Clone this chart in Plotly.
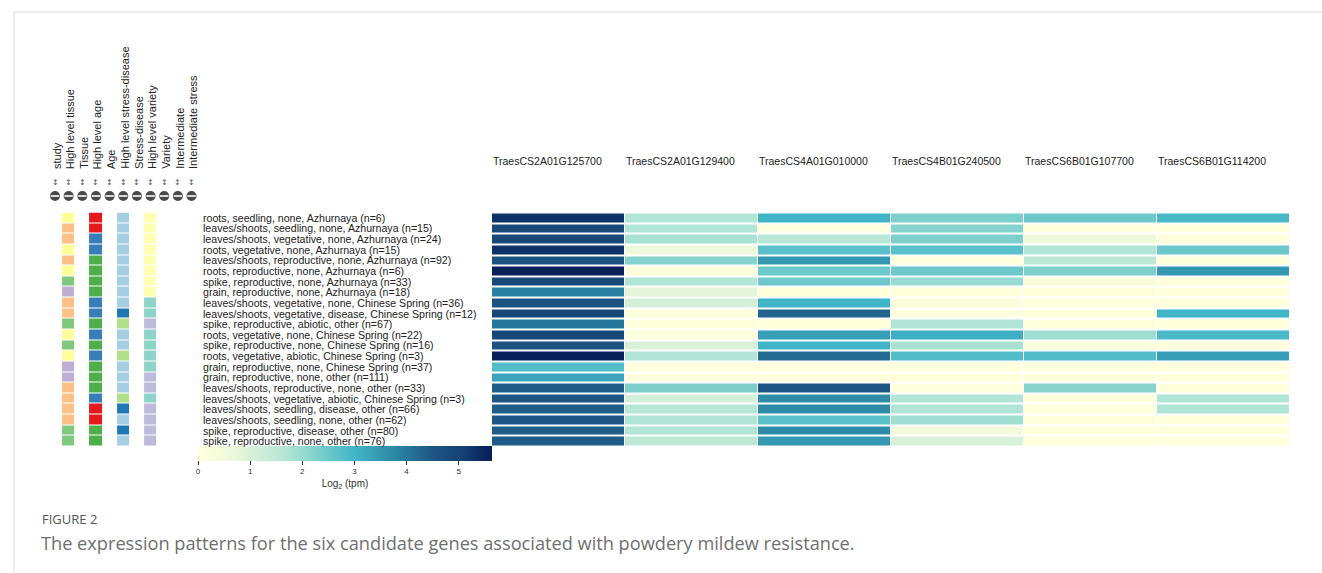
import plotly.graph_objects as go

W, H = 1322, 573

genes = ["TraesCS2A01G125700", "TraesCS2A01G129400", "TraesCS4A01G010000",
         "TraesCS4B01G240500", "TraesCS6B01G107700", "TraesCS6B01G114200"]

samples = [
    "roots, seedling, none, Azhurnaya (n=6)",
    "leaves/shoots, seedling, none, Azhurnaya (n=15)",
    "leaves/shoots, vegetative, none, Azhurnaya (n=24)",
    "roots, vegetative, none, Azhurnaya (n=15)",
    "leaves/shoots, reproductive, none, Azhurnaya (n=92)",
    "roots, reproductive, none, Azhurnaya (n=6)",
    "spike, reproductive, none, Azhurnaya (n=33)",
    "grain, reproductive, none, Azhurnaya (n=18)",
    "leaves/shoots, vegetative, none, Chinese Spring (n=36)",
    "leaves/shoots, vegetative, disease, Chinese Spring (n=12)",
    "spike, reproductive, abiotic, other (n=67)",
    "roots, vegetative, none, Chinese Spring (n=22)",
    "spike, reproductive, none, Chinese Spring (n=16)",
    "roots, vegetative, abiotic, Chinese Spring (n=3)",
    "grain, reproductive, none, Chinese Spring (n=37)",
    "grain, reproductive, none, other (n=111)",
    "leaves/shoots, reproductive, none, other (n=33)",
    "leaves/shoots, vegetative, abiotic, Chinese Spring (n=3)",
    "leaves/shoots, seedling, disease, other (n=66)",
    "leaves/shoots, seedling, none, other (n=62)",
    "spike, reproductive, disease, other (n=80)",
    "spike, reproductive, none, other (n=76)",
]

# log2(tpm) for each gene, one value per sample group
expr_2A_125700 = [5.3, 4.9, 4.9, 5.3, 4.6, 5.6, 4.9, 3.9, 4.6, 4.9, 4.0,
                  4.9, 4.6, 5.6, 2.8, 3.3, 4.4, 4.5, 4.4, 4.5, 4.4, 4.4]
expr_2A_129400 = [1.7, 1.7, 1.8, 0.6, 2.2, 0.0, 1.7, 0.8, 1.1, 0.1, 0.0,
                  0.1, 1.0, 1.7, 0.0, 0.0, 2.3, 1.1, 1.6, 1.7, 1.7, 1.5]
expr_4A_010000 = [3.0, 0.05, 1.6, 2.7, 3.5, 2.5, 2.5, 0.0, 3.0, 4.3, 0.0,
                  3.4, 3.0, 4.2, 0.0, 0.0, 4.5, 3.7, 3.7, 2.7, 3.7, 3.5]
expr_4B_240500 = [2.3, 2.2, 2.3, 2.7, 0.05, 2.5, 2.0, 0.0, 0.2, 0.05, 1.7,
                  3.1, 1.8, 2.8, 0.0, 0.0, 0.05, 1.7, 1.7, 1.9, 0.5, 1.0]
expr_6B_107700 = [2.5, 0.0, 0.6, 1.7, 1.5, 2.3, 0.3, 0.0, 0.0, 0.0, 0.0,
                  1.9, 0.0, 2.8, 0.0, 0.0, 2.2, 0.0, 0.0, 0.0, 0.0, 0.0]
expr_6B_114200 = [2.9, 0.0, 0.0, 2.5, 0.0, 3.5, 0.0, 0.0, 0.0, 3.0, 0.0,
                  2.9, 0.0, 3.4, 0.0, 0.0, 0.0, 1.7, 1.7, 0.0, 0.0, 0.0]
expr_max = 5.64
colorbar_ticks = [0, 1, 2, 3, 4, 5]

# sample metadata shown as coloured side columns
high_level_tissue = ["roots", "leaves/shoots", "leaves/shoots", "roots", "leaves/shoots",
                     "roots", "spike", "grain", "leaves/shoots", "leaves/shoots", "spike",
                     "roots", "spike", "roots", "grain", "grain", "leaves/shoots",
                     "leaves/shoots", "leaves/shoots", "leaves/shoots", "spike", "spike"]
high_level_age = ["seedling", "seedling", "vegetative", "vegetative", "reproductive",
                  "reproductive", "reproductive", "reproductive", "vegetative", "vegetative",
                  "reproductive", "vegetative", "reproductive", "vegetative", "reproductive",
                  "reproductive", "reproductive", "vegetative", "seedling", "seedling",
                  "reproductive", "reproductive"]
high_level_stress = ["none", "none", "none", "none", "none", "none", "none", "none", "none",
                     "disease", "abiotic", "none", "none", "abiotic", "none", "none", "none",
                     "abiotic", "disease", "none", "disease", "none"]
high_level_variety = ["Azhurnaya"] * 8 + ["Chinese Spring", "Chinese Spring", "other",
                      "Chinese Spring", "Chinese Spring", "Chinese Spring", "Chinese Spring",
                      "other", "other", "Chinese Spring", "other", "other", "other", "other"]

factor_headers = ["study", "High level tissue", "Tissue", "High level age", "Age",
                  "High level stress-disease", "Stress-disease", "High level variety",
                  "Variety", "Intermediate", "Intermediate stress"]

tissue_colors = {"roots": "#ffff99", "leaves/shoots": "#fdc086",
                 "spike": "#7fc97f", "grain": "#beaed4"}
age_colors = {"seedling": "#e41a1c", "vegetative": "#377eb8", "reproductive": "#4daf4a"}
stress_colors = {"none": "#a6cee3", "disease": "#1f78b4", "abiotic": "#b2df8a"}
variety_colors = {"Azhurnaya": "#ffffb3", "Chinese Spring": "#8dd3c7", "other": "#bebada"}

expr_colorscale = [
    [0.00, "#ffffdc"], [0.09, "#f3fadb"], [0.18, "#d9f1d9"], [0.30, "#b2e5d5"],
    [0.41, "#7ccfcc"], [0.53, "#41b6c8"], [0.62, "#3498b2"], [0.71, "#26789a"],
    [0.80, "#1d5583"], [0.89, "#154475"], [1.00, "#081d58"],
]

FONT = "Liberation Sans, Arial, sans-serif"


def px_x(p):
    return p / W


def px_y(p):
    return 1 - p / H


n_rows = len(samples)
rows = list(range(n_rows))
gene_values = [expr_2A_125700, expr_2A_129400, expr_4A_010000,
               expr_4B_240500, expr_6B_107700, expr_6B_114200]
z = [[g[i] for g in gene_values] for i in rows]

fig = go.Figure()

fig.add_trace(go.Heatmap(
    z=z, x=list(range(len(genes))), y=rows,
    zmin=0, zmax=expr_max, colorscale=expr_colorscale,
    xgap=1, ygap=2, hoverongaps=False,
    customdata=[[s] * len(genes) for s in samples],
    hovertemplate="%{customdata}<br>%{z:.2f}<extra></extra>",
    colorbar=dict(
        orientation="h", x=px_x(345), xanchor="center", y=px_y(446), yanchor="top",
        len=294 / W, lenmode="fraction", thickness=15, thicknessmode="pixels",
        xpad=0, ypad=0, outlinewidth=0,
        tickvals=colorbar_ticks, ticks="outside", ticklen=4, tickcolor="#333",
        tickfont=dict(family=FONT, size=8, color="#333"),
        title=dict(text="Log<sub>2</sub> (tpm)", side="bottom",
                   font=dict(family=FONT, size=10, color="#333")),
    ),
))

# side columns: one heatmap, each column uses its own palette
factor_slots = [1, 3, 5, 7]
factor_columns = [(high_level_tissue, tissue_colors), (high_level_age, age_colors),
                  (high_level_stress, stress_colors), (high_level_variety, variety_colors)]
palette = []
offsets = []
for _, cmap in factor_columns:
    offsets.append(len(palette))
    palette.extend(cmap.values())
n_cat = len(palette)
cat_scale = []
for i, c in enumerate(palette):
    cat_scale += [[i / n_cat, c], [(i + 1) / n_cat, c]]
cat_z = []
for i in rows:
    cat_z.append([offsets[k] + list(cmap.keys()).index(vals[i]) + 0.5
                  for k, (vals, cmap) in enumerate(factor_columns)])
cat_text = [[vals[i] for vals, _ in factor_columns] for i in rows]
fig.add_trace(go.Heatmap(
    z=cat_z, x=factor_slots, y=rows, xaxis="x2", yaxis="y",
    zmin=0, zmax=n_cat, colorscale=cat_scale, showscale=False,
    xgap=15, ygap=1, text=cat_text, hovertemplate="%{text}<extra></extra>",
))

# sort / collapse controls under each factor header
slots = list(range(len(factor_headers)))
fig.add_trace(go.Scatter(
    x=slots, y=[196] * len(slots), xaxis="x2", yaxis="y3", mode="markers",
    marker=dict(symbol="circle", size=10, color="#4a4a4a"),
    hoverinfo="skip", cliponaxis=False,
))
fig.add_trace(go.Scatter(
    x=slots, y=[196] * len(slots), xaxis="x2", yaxis="y3", mode="markers",
    marker=dict(symbol="line-ew", size=6, line=dict(color="white", width=1.6)),
    hoverinfo="skip", cliponaxis=False,
))

annotations = []
for k, h in enumerate(factor_headers):
    annotations.append(dict(
        text=h, x=k, xref="x2", xshift=1.5, y=px_y(171), yref="paper",
        xanchor="center", yanchor="bottom", textangle=-90, showarrow=False,
        font=dict(family=FONT, size=11, color="#222"),
    ))
    annotations.append(dict(
        text="↕", x=k, xref="x2", y=px_y(182.5), yref="paper",
        xanchor="center", yanchor="middle", showarrow=False,
        font=dict(family="DejaVu Sans", size=8, color="#555"),
    ))

for j, g in enumerate(genes):
    annotations.append(dict(
        text=g, x=j - 0.5, xref="x", xshift=-1, y=px_y(161.5), yref="paper",
        xanchor="left", yanchor="middle", showarrow=False,
        font=dict(family=FONT, size=10.5, color="#222"),
    ))

for i, s in enumerate(samples):
    annotations.append(dict(
        text=s, x=px_x(201), xref="paper", y=i, yref="y",
        xanchor="left", yanchor="middle", showarrow=False,
        font=dict(family=FONT, size=10.6, color="#222"),
    ))

annotations.append(dict(
    text="FIGURE 2", x=px_x(40), xref="paper", y=px_y(518.5), yref="paper",
    xanchor="left", yanchor="middle", showarrow=False,
    font=dict(family="Open Sans", size=13, color="#555"),
))
annotations.append(dict(
    text="The expression patterns for the six candidate genes associated with powdery mildew resistance.",
    x=px_x(39), xref="paper", y=px_y(543), yref="paper",
    xanchor="left", yanchor="middle", showarrow=False,
    font=dict(family="Open Sans", size=18.2, color="#6f6f6f"),
))

fig.update_layout(
    width=W, height=H, autosize=False,
    margin=dict(l=0, r=0, t=0, b=0, pad=0),
    paper_bgcolor="white", plot_bgcolor="rgba(0,0,0,0)",
    showlegend=False,
    xaxis=dict(domain=[px_x(492), px_x(1290)], range=[-0.5, len(genes) - 0.5],
               visible=False, fixedrange=True),
    yaxis=dict(domain=[px_y(446.5), px_y(212.5)], range=[n_rows - 0.5, -0.5],
               visible=False, fixedrange=True),
    xaxis2=dict(domain=[px_x(55 - 6.825), px_x(55 + 13.65 * 10.5)], range=[-0.5, 10.5],
                anchor="y", visible=False, fixedrange=True),
    yaxis3=dict(domain=[0, 1], range=[H, 0], anchor="x2", visible=False, fixedrange=True),
    annotations=annotations,
    shapes=[
        dict(type="line", xref="paper", yref="paper", x0=px_x(14), x1=1,
             y0=px_y(12), y1=px_y(12), line=dict(color="#dcdcdc", width=1)),
        dict(type="line", xref="paper", yref="paper", x0=px_x(14), x1=px_x(14),
             y0=px_y(12), y1=0, line=dict(color="#dcdcdc", width=1)),
    ],
)

fig.write_html("out.html")
